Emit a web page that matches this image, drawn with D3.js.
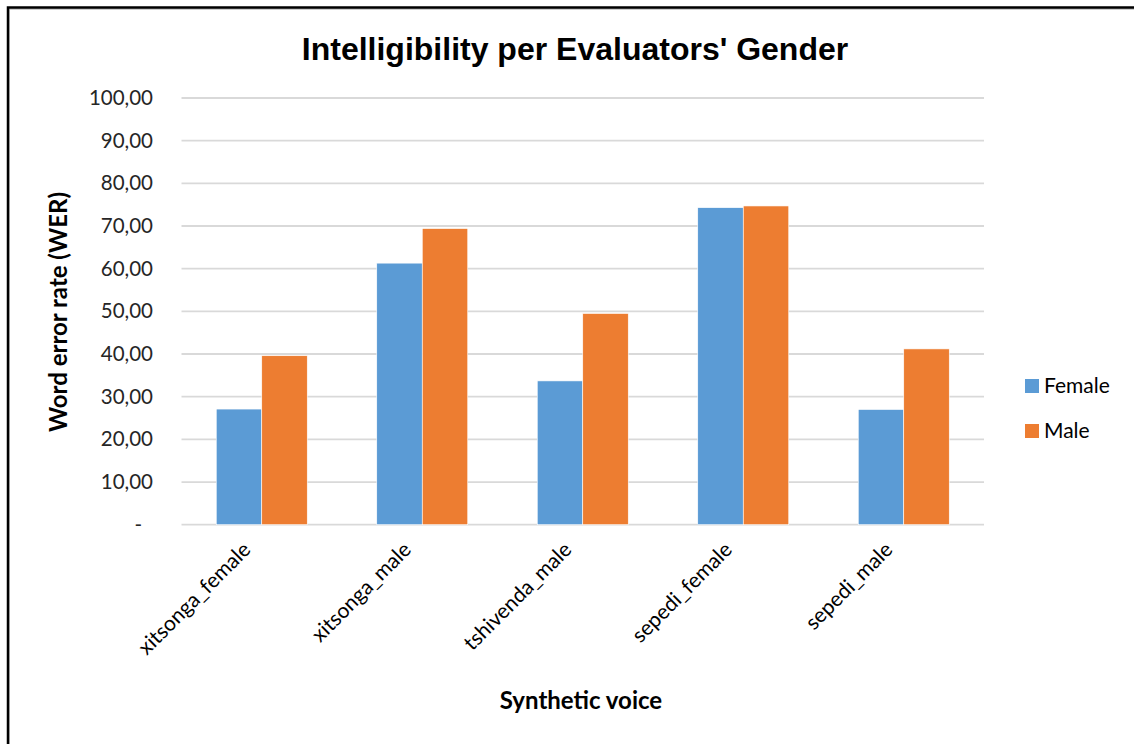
<!DOCTYPE html>
<html>
<head>
<meta charset="utf-8">
<script src="https://cdn.jsdelivr.net/npm/d3@7"></script>
<style>
  html, body { margin: 0; padding: 0; background: #fff; }
  svg { display: block; }
</style>
</head>
<body>
<svg id="chart" width="1134" height="744"></svg>
<script>
// Word error rate per synthetic voice, split by evaluator gender
const voices = ["xitsonga_female", "xitsonga_male", "tshivenda_male", "sepedi_female", "sepedi_male"];
const seriesNames = ["Female", "Male"];
const femaleWER = [27.1, 61.3, 33.7, 74.3, 27.0];
const maleWER = [39.6, 69.4, 49.5, 74.7, 41.2];
const yTicks = [0, 10, 20, 30, 40, 50, 60, 70, 80, 90, 100];
const seriesColors = ["#5b9bd5", "#ed7d31"];

const rows = voices.map((v, i) => ({ voice: v, values: [femaleWER[i], maleWER[i]] }));

const svg = d3.select("#chart");
const W = 1134, H = 744;
const font = "Lato, 'Open Sans', sans-serif";

// chart frame
svg.append("rect").attr("x", 0).attr("y", 0).attr("width", W).attr("height", H).attr("fill", "#fff");
svg.append("path")
  .attr("d", `M9,${H + 5} L9,9 L${W + 5},9`)
  .attr("fill", "none").attr("stroke", "#bfbfbf").attr("stroke-width", 1.5);
svg.append("path")
  .attr("d", `M8,${H + 5} L8,7.5 L${W + 5},7.5`)
  .attr("fill", "none").attr("stroke", "#000").attr("stroke-width", 2.5);

const plot = { left: 181.5, right: 984, top: 98, bottom: 524.7 };

const x0 = d3.scaleBand().domain(voices).range([plot.left, plot.right])
  .paddingInner(0.433).paddingOuter(0.2165);
const x1 = d3.scaleBand().domain(seriesNames).range([0, x0.bandwidth()]);
const y = d3.scaleLinear().domain([0, 100]).range([plot.bottom, plot.top]);

const fmt = v => v === 0 ? "-" : d3.format(".2f")(v).replace(".", ",");

// horizontal gridlines
svg.append("g").selectAll("line").data(yTicks).join("line")
  .attr("x1", plot.left).attr("x2", plot.right)
  .attr("y1", d => y(d)).attr("y2", d => y(d))
  .attr("stroke", "#d9d9d9").attr("stroke-width", 1.8);

// y axis labels
const yAxis = d3.axisLeft(y).tickValues(yTicks).tickFormat(fmt).tickSize(0).tickPadding(0);
const gy = svg.append("g").attr("transform", "translate(153,0)").call(yAxis);
gy.select(".domain").remove();
gy.selectAll("text")
  .attr("font-family", font).attr("font-size", 20.5).attr("fill", "#262626")
  .attr("dx", d => d === 0 ? -11 : 0);

// bars
const groups = svg.append("g").selectAll("g").data(rows).join("g")
  .attr("transform", d => `translate(${x0(d.voice)},0)`);
groups.selectAll("rect").data(d => d.values.map((v, i) => ({ key: seriesNames[i], value: v, i })))
  .join("rect")
  .attr("x", d => x1(d.key))
  .attr("y", d => y(d.value))
  .attr("width", x1.bandwidth())
  .attr("height", d => y(0) - y(d.value))
  .attr("fill", d => seriesColors[d.i])
  .attr("stroke", "#fff").attr("stroke-width", 0.6);

// x axis category labels
const xAxis = d3.axisBottom(x0).tickSize(0).tickPadding(0);
const gx = svg.append("g").attr("transform", `translate(0,${plot.bottom})`).call(xAxis);
gx.select(".domain").remove();
gx.selectAll("text")
  .attr("font-family", font).attr("font-size", 21).attr("fill", "#000")
  .attr("text-anchor", "end")
  .attr("transform", "translate(-15,21) rotate(-45)")
  .attr("dy", "0.35em");

// titles
svg.append("text").attr("x", 575).attr("y", 60)
  .attr("text-anchor", "middle")
  .attr("font-family", "'Liberation Sans', Arial, sans-serif")
  .attr("font-weight", "bold").attr("font-size", 32).attr("fill", "#000")
  .text("Intelligibility per Evaluators' Gender");

svg.append("text")
  .attr("transform", "translate(67,312) rotate(-90)")
  .attr("text-anchor", "middle")
  .attr("font-family", font).attr("font-weight", "bold").attr("font-size", 24).attr("fill", "#000")
  .text("Word error rate (WER)");

svg.append("text").attr("x", 581).attr("y", 709)
  .attr("text-anchor", "middle")
  .attr("font-family", font).attr("font-weight", "bold").attr("font-size", 24).attr("fill", "#000")
  .text("Synthetic voice");

// legend
const legend = svg.append("g").selectAll("g").data(seriesNames).join("g")
  .attr("transform", (d, i) => `translate(1025,${379 + i * 45})`);
legend.append("rect").attr("width", 14).attr("height", 14)
  .attr("fill", (d, i) => seriesColors[i]);
legend.append("text").attr("x", 19).attr("y", 7).attr("dy", "0.35em")
  .attr("font-family", font).attr("font-size", 21).attr("fill", "#000")
  .text(d => d);
</script>
</body>
</html>
